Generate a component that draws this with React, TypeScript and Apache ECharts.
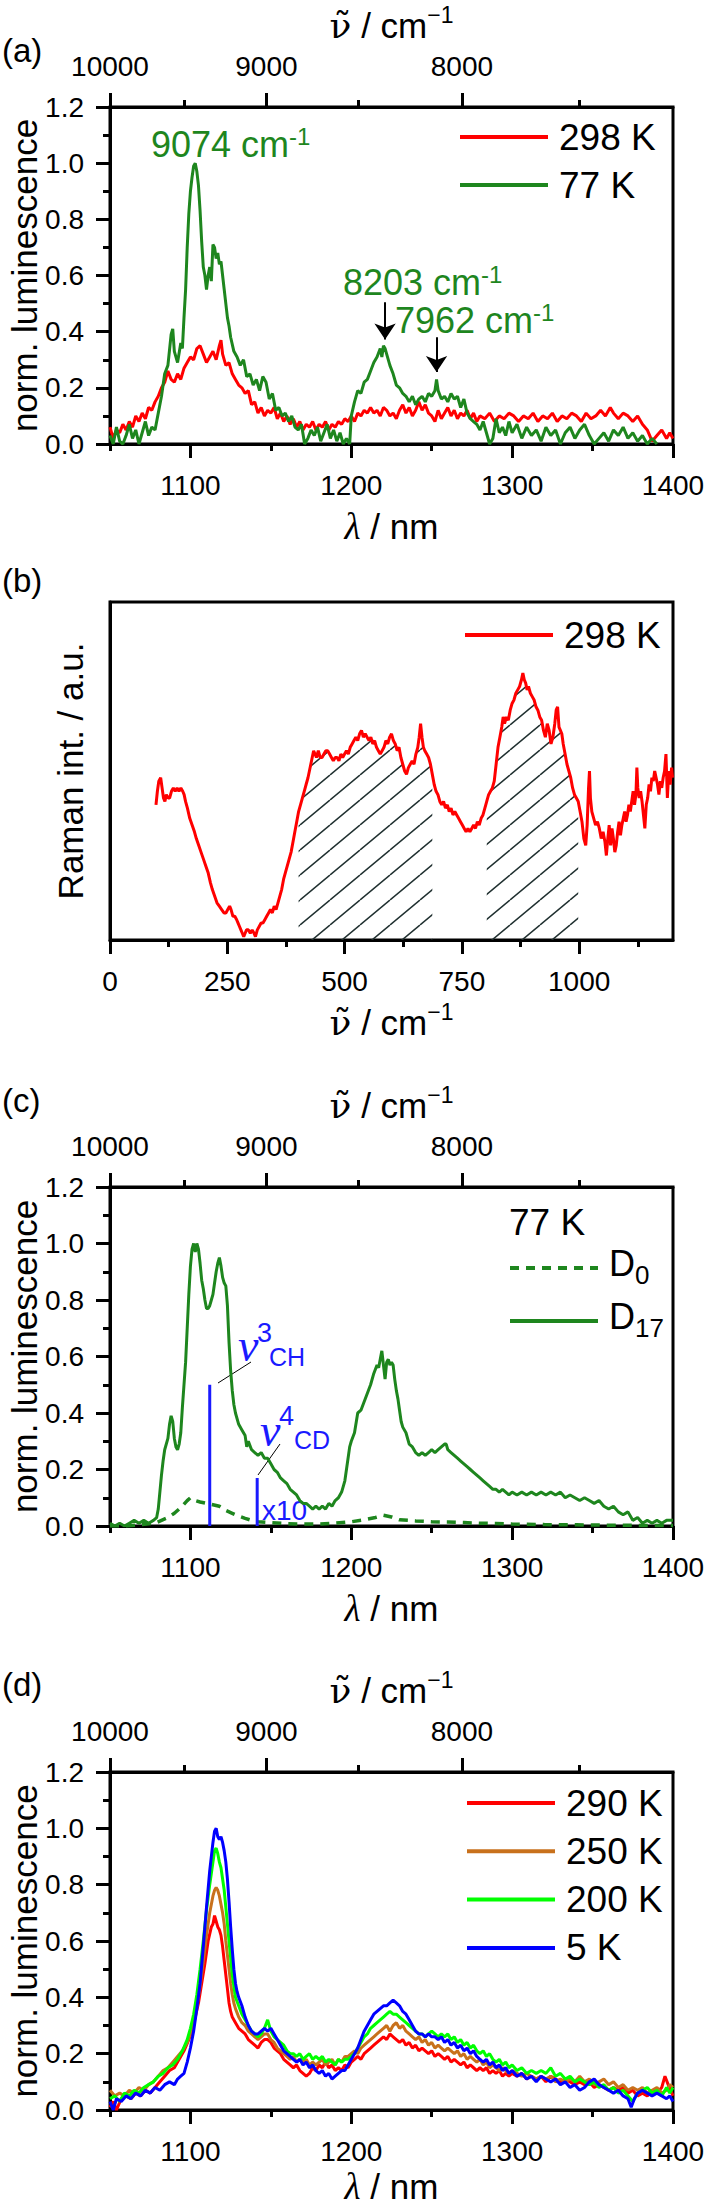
import React, { useEffect, useRef } from "react";
import * as echarts from "echarts";

const W = 708;
const H = 2205;
const FONT = 'Arial, "Liberation Sans", Helvetica, sans-serif';
const SERIF = '"Liberation Serif", "Times New Roman", "DejaVu Serif", serif';
const NUFONT = '"DejaVu Serif", serif';
const BLACK = "#000";
const RED = "#ff0000";
const DKGREEN = "#1e861e";
const BROWN = "#c8711c";
const LGREEN = "#00ff00";
const BLUE = "#0000ff";
const ABLUE = "#1a1aff";

// ---------- tick values ----------
const LAMBDA_MAJOR = [1100, 1200, 1300, 1400];
const LAMBDA_MINOR = [1050, 1150, 1250, 1350];
const WN_MAJOR = [10000, 9000, 8000];
const WN_MINOR = [9500, 8500, 7500];
const RAMAN_MAJOR = [0, 250, 500, 750, 1000];
const RAMAN_MINOR = [125, 375, 625, 875, 1125];

// ---------- panel (a) ----------
const a298 = [[1050,0.06],[1052,0.02],[1054,0.05],[1056,0.04],[1058,0.07],[1060,0.05],[1062,0.08],[1064,0.06],[1066,0.1],[1068,0.08],[1070,0.11],[1072,0.09],[1074,0.13],[1076,0.12],[1078,0.15],[1080,0.17],[1082,0.2],[1084,0.22],[1086,0.26],[1088,0.23],[1090,0.22],[1092,0.25],[1094,0.23],[1096,0.27],[1098,0.29],[1100,0.31],[1102,0.3],[1104,0.34],[1106,0.35],[1108,0.32],[1110,0.29],[1112,0.31],[1114,0.33],[1116,0.3],[1118,0.35],[1119,0.37],[1120,0.32],[1122,0.28],[1124,0.29],[1126,0.25],[1128,0.23],[1130,0.21],[1132,0.2],[1134,0.18],[1136,0.19],[1138,0.14],[1140,0.15],[1142,0.11],[1144,0.13],[1146,0.1],[1148,0.12],[1150,0.11],[1152,0.13],[1154,0.09],[1156,0.11],[1158,0.08],[1160,0.1],[1162,0.07],[1164,0.09],[1166,0.06],[1168,0.08],[1170,0.05],[1172,0.07],[1174,0.06],[1176,0.08],[1178,0.05],[1180,0.07],[1182,0.06],[1184,0.08],[1186,0.05],[1188,0.07],[1190,0.06],[1192,0.08],[1194,0.07],[1196,0.09],[1198,0.08],[1200,0.1],[1202,0.08],[1204,0.11],[1206,0.1],[1208,0.12],[1210,0.11],[1212,0.13],[1214,0.11],[1216,0.12],[1218,0.1],[1220,0.13],[1222,0.12],[1224,0.1],[1226,0.11],[1228,0.09],[1230,0.12],[1232,0.14],[1234,0.11],[1236,0.13],[1238,0.1],[1240,0.12],[1242,0.15],[1244,0.12],[1246,0.14],[1248,0.11],[1250,0.1],[1252,0.08],[1254,0.12],[1256,0.09],[1258,0.11],[1260,0.13],[1262,0.1],[1264,0.12],[1266,0.09],[1268,0.11],[1270,0.1],[1272,0.12],[1274,0.09],[1276,0.11],[1278,0.08],[1280,0.1],[1283,0.09],[1286,0.11],[1289,0.08],[1292,0.1],[1295,0.09],[1298,0.11],[1301,0.1],[1304,0.08],[1307,0.1],[1310,0.09],[1313,0.11],[1316,0.08],[1319,0.1],[1322,0.09],[1325,0.11],[1328,0.08],[1331,0.1],[1334,0.09],[1337,0.11],[1340,0.1],[1343,0.08],[1346,0.11],[1349,0.09],[1352,0.1],[1355,0.12],[1358,0.1],[1361,0.13],[1363,0.11],[1366,0.09],[1369,0.11],[1372,0.1],[1375,0.08],[1378,0.1],[1381,0.07],[1384,0.05],[1387,0.01],[1390,0.03],[1393,0.05],[1396,0.02],[1398,0.04],[1400,0.02]];
const a77 = [[1050,0.03],[1052,0.0],[1054,0.06],[1056,0.01],[1058,0.0],[1060,0.03],[1062,0.07],[1064,0.02],[1066,0.05],[1068,0.0],[1070,0.04],[1072,0.08],[1074,0.03],[1076,0.06],[1078,0.05],[1080,0.11],[1082,0.17],[1084,0.25],[1086,0.28],[1088,0.39],[1089,0.41],[1090,0.33],[1092,0.29],[1094,0.36],[1095,0.34],[1096,0.45],[1097,0.55],[1098,0.7],[1099,0.82],[1100,0.9],[1101,0.95],[1102,0.99],[1103,1.0],[1104,0.97],[1105,0.92],[1106,0.83],[1107,0.72],[1108,0.63],[1109,0.6],[1110,0.55],[1111,0.6],[1112,0.63],[1113,0.58],[1114,0.71],[1115,0.7],[1116,0.66],[1117,0.68],[1118,0.64],[1119,0.65],[1120,0.6],[1121,0.55],[1122,0.5],[1123,0.45],[1124,0.42],[1125,0.38],[1127,0.33],[1129,0.31],[1131,0.28],[1133,0.3],[1135,0.24],[1137,0.25],[1139,0.21],[1141,0.23],[1143,0.19],[1145,0.24],[1147,0.22],[1149,0.16],[1151,0.18],[1153,0.12],[1155,0.13],[1157,0.1],[1159,0.11],[1161,0.08],[1163,0.1],[1165,0.06],[1167,0.05],[1169,0.07],[1171,0.0],[1173,0.02],[1175,0.05],[1177,0.03],[1179,0.06],[1181,0.01],[1183,0.04],[1185,0.07],[1187,0.02],[1189,0.05],[1191,0.01],[1193,0.04],[1195,0.0],[1197,0.02],[1199,0.0],[1200,0.1],[1202,0.15],[1204,0.19],[1206,0.18],[1208,0.22],[1210,0.23],[1212,0.26],[1214,0.29],[1216,0.31],[1218,0.34],[1219,0.31],[1220,0.35],[1221,0.34],[1222,0.32],[1224,0.28],[1226,0.25],[1228,0.21],[1230,0.2],[1232,0.18],[1234,0.17],[1236,0.15],[1238,0.17],[1240,0.14],[1242,0.16],[1244,0.17],[1246,0.15],[1248,0.18],[1250,0.17],[1252,0.19],[1253,0.23],[1254,0.19],[1256,0.16],[1258,0.17],[1260,0.15],[1262,0.18],[1264,0.16],[1266,0.17],[1268,0.13],[1270,0.16],[1272,0.11],[1274,0.09],[1276,0.08],[1278,0.07],[1280,0.05],[1282,0.08],[1284,0.04],[1286,0.0],[1288,0.02],[1290,0.09],[1292,0.04],[1294,0.06],[1296,0.03],[1298,0.08],[1300,0.04],[1303,0.07],[1306,0.02],[1309,0.06],[1312,0.03],[1315,0.05],[1318,0.01],[1321,0.06],[1324,0.03],[1327,0.05],[1330,0.0],[1333,0.04],[1336,0.06],[1339,0.02],[1342,0.05],[1345,0.07],[1348,0.03],[1351,0.0],[1354,0.02],[1357,0.04],[1360,0.01],[1363,0.05],[1366,0.03],[1369,0.06],[1372,0.02],[1375,0.04],[1378,0.01],[1381,0.03],[1384,0.0],[1387,0.02],[1390,0.0]];
// arrows: [lambda, start value, end value]
const aArrows = [[1221, 0.505, 0.372], [1253, 0.38, 0.256]];

// ---------- panel (b) ----------
const ramanB = [[98,0.40],[101,0.44],[104,0.47],[108,0.48],[111,0.45],[114,0.42],[117,0.41],[120,0.43],[124,0.42],[127,0.42],[131,0.44],[135,0.45],[139,0.44],[143,0.45],[147,0.44],[151,0.45],[155,0.44],[158,0.43],[161,0.41],[165,0.39],[170,0.36],[175,0.34],[180,0.32],[184,0.3],[189,0.28],[194,0.26],[199,0.24],[204,0.22],[209,0.2],[214,0.17],[218,0.15],[223,0.13],[228,0.11],[233,0.1],[238,0.09],[243,0.08],[247,0.08],[251,0.09],[255,0.1],[258,0.09],[262,0.07],[266,0.07],[270,0.06],[273,0.05],[276,0.04],[279,0.03],[282,0.02],[285,0.01],[288,0.02],[291,0.03],[295,0.03],[299,0.02],[303,0.03],[307,0.02],[310,0.01],[314,0.03],[318,0.04],[322,0.05],[326,0.05],[330,0.06],[334,0.07],[338,0.08],[342,0.09],[346,0.08],[350,0.1],[354,0.09],[358,0.11],[362,0.13],[366,0.15],[370,0.18],[374,0.2],[378,0.22],[382,0.24],[386,0.26],[390,0.29],[394,0.32],[398,0.35],[402,0.38],[406,0.4],[410,0.42],[414,0.44],[418,0.46],[422,0.48],[425,0.5],[428,0.52],[431,0.54],[434,0.56],[437,0.55],[440,0.54],[444,0.56],[448,0.54],[452,0.54],[456,0.55],[460,0.56],[464,0.56],[468,0.55],[472,0.54],[476,0.53],[480,0.54],[484,0.54],[488,0.53],[492,0.55],[496,0.54],[500,0.55],[504,0.56],[508,0.55],[512,0.57],[516,0.58],[520,0.59],[524,0.6],[528,0.59],[532,0.61],[536,0.62],[540,0.6],[544,0.61],[548,0.6],[552,0.59],[556,0.6],[560,0.58],[564,0.59],[568,0.57],[572,0.56],[576,0.55],[580,0.56],[584,0.57],[588,0.59],[592,0.58],[596,0.6],[600,0.61],[604,0.59],[608,0.58],[612,0.56],[616,0.57],[620,0.54],[624,0.52],[628,0.5],[632,0.49],[636,0.51],[640,0.52],[644,0.53],[648,0.52],[652,0.55],[656,0.57],[659,0.6],[662,0.64],[665,0.6],[668,0.57],[671,0.56],[675,0.55],[679,0.54],[683,0.52],[687,0.49],[691,0.46],[695,0.44],[699,0.43],[703,0.41],[707,0.4],[711,0.41],[715,0.39],[719,0.4],[723,0.38],[727,0.39],[731,0.37],[735,0.38],[739,0.37],[743,0.36],[747,0.35],[751,0.34],[755,0.33],[759,0.32],[763,0.33],[767,0.32],[771,0.33],[775,0.34],[779,0.33],[783,0.35],[787,0.34],[791,0.36],[795,0.37],[799,0.39],[803,0.41],[807,0.43],[811,0.44],[815,0.45],[819,0.47],[823,0.52],[827,0.57],[831,0.6],[835,0.63],[838,0.66],[841,0.64],[845,0.66],[849,0.65],[853,0.68],[857,0.7],[861,0.71],[865,0.73],[869,0.74],[873,0.75],[877,0.77],[880,0.79],[883,0.77],[886,0.76],[889,0.74],[892,0.75],[896,0.73],[900,0.72],[904,0.71],[908,0.69],[912,0.68],[916,0.66],[920,0.65],[924,0.62],[928,0.6],[932,0.64],[936,0.62],[940,0.58],[944,0.6],[948,0.64],[951,0.68],[954,0.69],[957,0.63],[960,0.62],[963,0.61],[966,0.58],[970,0.55],[974,0.52],[978,0.5],[982,0.48],[986,0.45],[990,0.43],[994,0.42],[998,0.41],[1002,0.38],[1006,0.35],[1010,0.3],[1014,0.28],[1017,0.34],[1020,0.45],[1022,0.5],[1024,0.42],[1027,0.38],[1031,0.36],[1035,0.34],[1039,0.35],[1043,0.33],[1047,0.3],[1051,0.32],[1055,0.29],[1058,0.25],[1061,0.3],[1064,0.34],[1067,0.28],[1070,0.33],[1073,0.3],[1076,0.26],[1079,0.28],[1082,0.32],[1085,0.35],[1088,0.31],[1091,0.34],[1094,0.36],[1097,0.38],[1100,0.35],[1103,0.37],[1106,0.4],[1109,0.38],[1112,0.41],[1115,0.44],[1118,0.4],[1121,0.43],[1123,0.51],[1125,0.45],[1128,0.42],[1131,0.44],[1134,0.41],[1137,0.37],[1140,0.33],[1143,0.4],[1146,0.42],[1149,0.46],[1152,0.44],[1155,0.48],[1158,0.47],[1161,0.5],[1164,0.48],[1167,0.46],[1170,0.43],[1173,0.47],[1176,0.45],[1179,0.48],[1182,0.5],[1185,0.55],[1188,0.42],[1191,0.5],[1194,0.46],[1197,0.51],[1199,0.48]];
const hatchRanges = [[400, 690], [800, 1000]];

// ---------- panel (c) ----------
const cD0 = [[1050,0.0],[1060,0.0],[1070,0.005],[1078,0.01],[1082,0.02],[1086,0.03],[1090,0.045],[1094,0.065],[1098,0.09],[1100,0.1],[1103,0.09],[1106,0.085],[1110,0.08],[1114,0.075],[1118,0.07],[1122,0.055],[1126,0.045],[1130,0.035],[1134,0.027],[1138,0.02],[1142,0.015],[1150,0.012],[1160,0.008],[1170,0.007],[1180,0.007],[1190,0.01],[1200,0.015],[1208,0.022],[1215,0.03],[1220,0.038],[1225,0.032],[1230,0.022],[1240,0.018],[1250,0.015],[1260,0.014],[1270,0.012],[1280,0.01],[1290,0.009],[1300,0.007],[1320,0.005],[1340,0.004],[1360,0.003],[1380,0.002],[1400,0.002]];
const cD17 = [[1050,0.01],[1053,0.0],[1056,0.01],[1059,0.0],[1062,0.01],[1065,0.02],[1068,0.01],[1071,0.02],[1074,0.01],[1077,0.02],[1079,0.03],[1080,0.06],[1081,0.12],[1082,0.18],[1083,0.23],[1084,0.27],[1086,0.31],[1087,0.36],[1088,0.39],[1089,0.37],[1090,0.31],[1091,0.28],[1092,0.27],[1093,0.29],[1094,0.33],[1095,0.42],[1096,0.5],[1097,0.58],[1098,0.7],[1099,0.82],[1100,0.92],[1101,0.98],[1102,1.0],[1103,0.97],[1104,1.0],[1105,0.98],[1106,0.93],[1107,0.87],[1108,0.84],[1109,0.8],[1110,0.77],[1111,0.77],[1112,0.78],[1113,0.8],[1114,0.82],[1115,0.86],[1116,0.9],[1117,0.93],[1118,0.95],[1119,0.92],[1120,0.88],[1121,0.86],[1122,0.85],[1123,0.78],[1124,0.65],[1125,0.55],[1126,0.48],[1127,0.43],[1128,0.4],[1130,0.36],[1132,0.34],[1134,0.32],[1135,0.28],[1136,0.3],[1138,0.27],[1140,0.26],[1142,0.25],[1144,0.26],[1146,0.24],[1148,0.24],[1150,0.22],[1152,0.2],[1154,0.19],[1156,0.17],[1158,0.16],[1160,0.15],[1162,0.13],[1164,0.12],[1166,0.11],[1168,0.09],[1170,0.08],[1172,0.08],[1174,0.07],[1176,0.06],[1178,0.07],[1180,0.06],[1182,0.07],[1184,0.06],[1186,0.08],[1188,0.07],[1190,0.09],[1192,0.1],[1194,0.12],[1196,0.16],[1197,0.2],[1198,0.24],[1199,0.28],[1200,0.3],[1202,0.33],[1204,0.4],[1206,0.41],[1208,0.44],[1210,0.47],[1212,0.5],[1214,0.54],[1216,0.57],[1217,0.56],[1218,0.59],[1219,0.62],[1220,0.57],[1221,0.52],[1222,0.58],[1223,0.59],[1224,0.57],[1225,0.58],[1226,0.57],[1227,0.52],[1228,0.48],[1229,0.45],[1230,0.41],[1231,0.37],[1232,0.35],[1234,0.33],[1236,0.29],[1238,0.28],[1240,0.26],[1242,0.25],[1244,0.26],[1246,0.25],[1248,0.26],[1250,0.27],[1252,0.26],[1254,0.27],[1256,0.28],[1258,0.29],[1259,0.29],[1260,0.27],[1262,0.26],[1264,0.25],[1266,0.24],[1268,0.23],[1270,0.22],[1272,0.21],[1274,0.2],[1276,0.19],[1278,0.18],[1280,0.17],[1282,0.16],[1284,0.15],[1286,0.14],[1288,0.13],[1290,0.13],[1292,0.12],[1294,0.13],[1296,0.12],[1298,0.11],[1300,0.12],[1303,0.11],[1306,0.12],[1309,0.11],[1312,0.12],[1315,0.11],[1318,0.12],[1321,0.11],[1324,0.12],[1327,0.11],[1330,0.12],[1333,0.1],[1336,0.11],[1339,0.1],[1342,0.09],[1345,0.1],[1348,0.09],[1351,0.08],[1354,0.09],[1357,0.07],[1360,0.06],[1363,0.07],[1366,0.05],[1369,0.04],[1372,0.05],[1375,0.02],[1378,0.03],[1381,0.01],[1384,0.02],[1387,0.01],[1390,0.02],[1393,0.01],[1396,0.02],[1400,0.02]];
// vibrational overtone markers: [lambda, height]
const cModes = [[1112, 0.5], [1141.5, 0.17]];

// ---------- panel (d) ----------
const d290 = [[1050,0.01],[1052,0.03],[1054,0.0],[1057,0.04],[1060,0.05],[1063,0.04],[1066,0.06],[1069,0.05],[1072,0.07],[1075,0.06],[1078,0.08],[1081,0.1],[1084,0.12],[1087,0.14],[1090,0.15],[1093,0.18],[1096,0.21],[1099,0.25],[1101,0.28],[1103,0.33],[1105,0.38],[1107,0.45],[1109,0.52],[1111,0.6],[1113,0.65],[1114,0.66],[1115,0.69],[1116,0.67],[1117,0.65],[1118,0.64],[1119,0.62],[1120,0.58],[1121,0.53],[1122,0.48],[1123,0.43],[1124,0.38],[1125,0.35],[1126,0.33],[1128,0.31],[1130,0.29],[1132,0.28],[1134,0.27],[1136,0.25],[1138,0.24],[1140,0.23],[1142,0.22],[1144,0.24],[1146,0.25],[1148,0.25],[1150,0.24],[1152,0.22],[1154,0.21],[1156,0.2],[1158,0.18],[1160,0.17],[1162,0.16],[1164,0.15],[1166,0.16],[1168,0.14],[1170,0.13],[1172,0.12],[1174,0.13],[1176,0.15],[1178,0.14],[1180,0.16],[1182,0.15],[1184,0.17],[1186,0.15],[1188,0.16],[1190,0.14],[1192,0.15],[1194,0.14],[1196,0.16],[1198,0.15],[1200,0.17],[1202,0.18],[1204,0.19],[1206,0.18],[1208,0.2],[1210,0.21],[1212,0.22],[1214,0.23],[1216,0.24],[1218,0.25],[1220,0.26],[1222,0.25],[1224,0.27],[1226,0.26],[1228,0.25],[1230,0.24],[1232,0.25],[1234,0.23],[1236,0.24],[1238,0.22],[1240,0.23],[1242,0.21],[1244,0.22],[1246,0.21],[1248,0.2],[1250,0.21],[1252,0.19],[1254,0.2],[1256,0.19],[1258,0.18],[1260,0.19],[1262,0.17],[1264,0.18],[1266,0.17],[1268,0.16],[1270,0.17],[1272,0.15],[1274,0.16],[1276,0.15],[1278,0.14],[1280,0.15],[1282,0.14],[1284,0.15],[1286,0.13],[1288,0.14],[1290,0.13],[1292,0.14],[1294,0.12],[1296,0.13],[1298,0.12],[1300,0.13],[1303,0.12],[1306,0.13],[1309,0.11],[1312,0.12],[1315,0.11],[1318,0.12],[1321,0.1],[1324,0.12],[1327,0.11],[1330,0.1],[1333,0.11],[1336,0.1],[1339,0.09],[1342,0.1],[1345,0.09],[1348,0.1],[1351,0.08],[1354,0.09],[1357,0.08],[1360,0.07],[1363,0.08],[1366,0.07],[1369,0.08],[1372,0.06],[1375,0.07],[1378,0.05],[1381,0.06],[1384,0.05],[1387,0.07],[1390,0.06],[1393,0.08],[1395,0.12],[1397,0.09],[1400,0.05]];
const d250 = [[1050,0.07],[1053,0.05],[1056,0.06],[1059,0.05],[1062,0.07],[1065,0.06],[1068,0.08],[1071,0.07],[1074,0.09],[1077,0.1],[1080,0.12],[1083,0.14],[1086,0.15],[1089,0.17],[1092,0.19],[1095,0.21],[1098,0.24],[1100,0.27],[1102,0.31],[1104,0.37],[1106,0.44],[1108,0.53],[1110,0.62],[1112,0.7],[1114,0.76],[1115,0.78],[1116,0.79],[1117,0.78],[1118,0.76],[1119,0.73],[1120,0.7],[1121,0.66],[1122,0.6],[1123,0.55],[1124,0.5],[1125,0.45],[1126,0.41],[1127,0.38],[1128,0.36],[1130,0.33],[1132,0.31],[1134,0.3],[1136,0.28],[1138,0.27],[1140,0.26],[1142,0.25],[1144,0.26],[1146,0.27],[1148,0.27],[1150,0.25],[1152,0.24],[1154,0.22],[1156,0.21],[1158,0.2],[1160,0.19],[1162,0.18],[1164,0.19],[1166,0.17],[1168,0.18],[1170,0.17],[1172,0.18],[1174,0.16],[1176,0.17],[1178,0.16],[1180,0.17],[1182,0.18],[1184,0.16],[1186,0.17],[1188,0.18],[1190,0.16],[1192,0.18],[1194,0.17],[1196,0.19],[1198,0.19],[1200,0.2],[1202,0.21],[1204,0.2],[1206,0.22],[1208,0.23],[1210,0.24],[1212,0.25],[1214,0.26],[1216,0.27],[1218,0.28],[1220,0.29],[1222,0.3],[1224,0.28],[1226,0.3],[1228,0.31],[1230,0.29],[1232,0.3],[1234,0.28],[1236,0.27],[1238,0.26],[1240,0.25],[1242,0.26],[1244,0.24],[1246,0.25],[1248,0.23],[1250,0.24],[1252,0.22],[1254,0.23],[1256,0.22],[1258,0.21],[1260,0.22],[1262,0.21],[1264,0.2],[1266,0.21],[1268,0.19],[1270,0.2],[1272,0.18],[1274,0.19],[1276,0.18],[1278,0.17],[1280,0.18],[1282,0.16],[1284,0.17],[1286,0.15],[1288,0.16],[1290,0.15],[1292,0.14],[1294,0.15],[1296,0.14],[1298,0.13],[1300,0.14],[1303,0.13],[1306,0.12],[1309,0.13],[1312,0.12],[1315,0.11],[1318,0.12],[1321,0.11],[1324,0.12],[1327,0.1],[1330,0.11],[1333,0.1],[1336,0.11],[1339,0.1],[1342,0.12],[1345,0.1],[1348,0.11],[1351,0.09],[1354,0.1],[1357,0.11],[1360,0.09],[1363,0.1],[1366,0.08],[1369,0.09],[1372,0.07],[1375,0.08],[1378,0.07],[1381,0.08],[1384,0.06],[1387,0.07],[1390,0.08],[1393,0.06],[1396,0.07],[1398,0.09],[1400,0.08]];
const d200 = [[1050,0.04],[1053,0.05],[1056,0.03],[1059,0.06],[1062,0.05],[1065,0.07],[1068,0.06],[1071,0.08],[1074,0.09],[1077,0.1],[1080,0.12],[1083,0.13],[1086,0.15],[1089,0.16],[1092,0.18],[1095,0.21],[1098,0.25],[1100,0.29],[1102,0.34],[1104,0.41],[1106,0.5],[1108,0.6],[1110,0.71],[1112,0.8],[1114,0.88],[1115,0.92],[1116,0.93],[1117,0.91],[1118,0.88],[1119,0.86],[1120,0.82],[1121,0.78],[1122,0.72],[1123,0.66],[1124,0.6],[1125,0.54],[1126,0.48],[1127,0.44],[1128,0.4],[1130,0.37],[1132,0.34],[1134,0.32],[1136,0.3],[1138,0.28],[1140,0.27],[1142,0.26],[1144,0.27],[1146,0.29],[1148,0.32],[1150,0.28],[1152,0.26],[1154,0.25],[1156,0.24],[1158,0.23],[1160,0.21],[1162,0.2],[1164,0.2],[1166,0.19],[1168,0.2],[1170,0.18],[1172,0.19],[1174,0.2],[1176,0.18],[1178,0.19],[1180,0.18],[1182,0.19],[1184,0.17],[1186,0.18],[1188,0.17],[1190,0.16],[1192,0.18],[1194,0.17],[1196,0.18],[1198,0.18],[1200,0.19],[1202,0.2],[1204,0.22],[1206,0.24],[1208,0.26],[1210,0.27],[1212,0.29],[1214,0.3],[1216,0.31],[1218,0.32],[1220,0.33],[1222,0.34],[1224,0.35],[1226,0.34],[1228,0.34],[1230,0.33],[1232,0.32],[1234,0.31],[1236,0.3],[1238,0.29],[1240,0.28],[1242,0.27],[1244,0.27],[1246,0.26],[1248,0.27],[1250,0.28],[1252,0.27],[1254,0.26],[1256,0.27],[1258,0.26],[1260,0.27],[1262,0.25],[1264,0.26],[1266,0.24],[1268,0.25],[1270,0.23],[1272,0.24],[1274,0.22],[1276,0.23],[1278,0.21],[1280,0.2],[1282,0.21],[1284,0.19],[1286,0.2],[1288,0.18],[1290,0.17],[1292,0.18],[1294,0.16],[1296,0.17],[1298,0.15],[1300,0.16],[1303,0.14],[1306,0.15],[1309,0.13],[1312,0.14],[1315,0.13],[1318,0.14],[1321,0.13],[1324,0.15],[1327,0.12],[1330,0.13],[1333,0.11],[1336,0.12],[1339,0.1],[1342,0.11],[1345,0.1],[1348,0.09],[1351,0.1],[1354,0.08],[1357,0.09],[1360,0.07],[1363,0.08],[1366,0.06],[1369,0.07],[1372,0.05],[1375,0.03],[1378,0.06],[1381,0.07],[1384,0.08],[1387,0.06],[1390,0.07],[1393,0.05],[1396,0.08],[1398,0.06],[1400,0.08]];
const d5 = [[1050,0.03],[1052,0.0],[1054,0.04],[1057,0.03],[1060,0.05],[1063,0.04],[1066,0.06],[1069,0.05],[1072,0.07],[1075,0.06],[1078,0.08],[1081,0.07],[1084,0.09],[1087,0.1],[1090,0.09],[1092,0.11],[1094,0.12],[1096,0.13],[1098,0.17],[1100,0.22],[1102,0.28],[1104,0.36],[1106,0.45],[1108,0.58],[1110,0.72],[1112,0.85],[1114,0.95],[1115,0.99],[1116,1.0],[1117,0.97],[1118,0.96],[1119,0.97],[1120,0.95],[1121,0.92],[1122,0.88],[1123,0.82],[1124,0.74],[1125,0.65],[1126,0.57],[1127,0.5],[1128,0.45],[1129,0.42],[1130,0.4],[1132,0.37],[1134,0.33],[1136,0.3],[1138,0.28],[1140,0.27],[1142,0.27],[1144,0.28],[1146,0.29],[1148,0.28],[1150,0.29],[1152,0.27],[1154,0.25],[1156,0.23],[1158,0.21],[1160,0.2],[1162,0.19],[1164,0.18],[1166,0.17],[1168,0.18],[1170,0.16],[1172,0.17],[1174,0.15],[1176,0.16],[1178,0.14],[1180,0.13],[1182,0.14],[1184,0.12],[1186,0.13],[1188,0.11],[1190,0.12],[1192,0.13],[1194,0.14],[1196,0.14],[1198,0.16],[1200,0.18],[1202,0.2],[1204,0.22],[1206,0.25],[1208,0.28],[1210,0.3],[1212,0.32],[1214,0.34],[1216,0.35],[1218,0.36],[1220,0.37],[1222,0.37],[1224,0.38],[1226,0.39],[1228,0.38],[1230,0.37],[1232,0.35],[1234,0.34],[1236,0.32],[1238,0.3],[1240,0.28],[1242,0.27],[1244,0.27],[1246,0.26],[1248,0.27],[1250,0.26],[1252,0.26],[1254,0.25],[1256,0.26],[1258,0.24],[1260,0.25],[1262,0.23],[1264,0.24],[1266,0.22],[1268,0.23],[1270,0.21],[1272,0.22],[1274,0.2],[1276,0.21],[1278,0.19],[1280,0.18],[1282,0.17],[1284,0.18],[1286,0.16],[1288,0.17],[1290,0.15],[1292,0.16],[1294,0.14],[1296,0.15],[1298,0.13],[1300,0.14],[1303,0.12],[1306,0.13],[1309,0.11],[1312,0.12],[1315,0.1],[1318,0.12],[1321,0.11],[1324,0.1],[1327,0.11],[1330,0.09],[1333,0.1],[1336,0.08],[1339,0.09],[1342,0.07],[1345,0.08],[1348,0.1],[1351,0.11],[1354,0.09],[1357,0.08],[1360,0.07],[1363,0.06],[1366,0.07],[1369,0.05],[1372,0.04],[1374,0.01],[1376,0.04],[1378,0.06],[1381,0.07],[1384,0.06],[1387,0.05],[1390,0.06],[1393,0.05],[1396,0.04],[1398,0.05],[1400,0.03]];

// ---------- layout ----------
const PLOT_LEFT = 110;
const PLOT_W = 563;
const PANEL_TOPS = [107, 602, 1187, 1772];
const PANEL_H = [337, 338, 339, 338];

const axisLineStyle = { color: BLACK, width: 3 };
const tickStyle = { color: BLACK, width: 3 };
const tickLabel = { fontSize: 28, color: BLACK, fontFamily: FONT };
const plain = (v: number) => String(Math.round(v));

const nameRich = {
  n: { fontSize: 36, fontFamily: NUFONT, color: BLACK, lineHeight: 44 },
  l: { fontSize: 37, fontFamily: SERIF, fontStyle: "italic", color: BLACK, lineHeight: 44 },
  t: { fontSize: 35, fontFamily: FONT, color: BLACK, lineHeight: 44 },
  s: { fontSize: 23, fontFamily: FONT, color: BLACK, lineHeight: 24, verticalAlign: "top" },
};
const NU_NAME = "{n|ν̃}{t| / cm}{s|−1}";
const LAMBDA_NAME = "{l|λ}{t| / nm}";

function bottomAxes(g: number, min: number, max: number, major: number[], minor: number[], name: string, nameGap = 60) {
  return [
    {
      type: "value", gridIndex: g, position: "bottom", min, max,
      axisLine: { show: true, onZero: false, lineStyle: axisLineStyle },
      axisTick: { show: true, customValues: major, length: 14, lineStyle: tickStyle },
      axisLabel: { show: true, customValues: major, margin: 27, ...tickLabel, formatter: plain },
      splitLine: { show: false },
      name, nameLocation: "middle", nameGap, nameMoveOverlap: false,
      nameTextStyle: { fontSize: 35, color: BLACK, fontFamily: FONT, rich: nameRich },
    },
    {
      type: "value", gridIndex: g, position: "bottom", min, max,
      axisLine: { show: false, onZero: false },
      axisTick: { show: true, customValues: minor, length: 7, lineStyle: tickStyle },
      axisLabel: { show: false }, splitLine: { show: false },
    },
  ];
}

function topAxes(g: number) {
  const toNm = (w: number) => 1e7 / w;
  return [
    {
      type: "value", gridIndex: g, position: "top", min: 1000, max: 1400,
      axisLine: { show: true, onZero: false, lineStyle: axisLineStyle },
      axisTick: { show: true, customValues: WN_MAJOR.map(toNm), length: 14, lineStyle: tickStyle },
      axisLabel: {
        show: true, customValues: WN_MAJOR.map(toNm), margin: 27, ...tickLabel,
        formatter: (v: number) => String(Math.round(1e7 / v / 10) * 10),
      },
      splitLine: { show: false },
      name: NU_NAME, nameLocation: "middle", nameGap: 60, nameMoveOverlap: false,
      nameTextStyle: { fontSize: 35, color: BLACK, fontFamily: FONT, rich: nameRich },
    },
    {
      type: "value", gridIndex: g, position: "top", min: 1000, max: 1400,
      axisLine: { show: false, onZero: false },
      axisTick: { show: true, customValues: WN_MINOR.map(toNm), length: 7, lineStyle: tickStyle },
      axisLabel: { show: false }, splitLine: { show: false },
    },
  ];
}

function lumYAxis(g: number) {
  return {
    type: "value", gridIndex: g, position: "left", min: 0, max: 1.2, interval: 0.2,
    axisLine: { show: true, onZero: false, lineStyle: axisLineStyle },
    axisTick: { show: true, length: 14, lineStyle: tickStyle },
    minorTick: { show: true, splitNumber: 2, length: 7, lineStyle: tickStyle },
    axisLabel: { show: true, margin: 26, ...tickLabel, formatter: (v: number) => v.toFixed(1) },
    splitLine: { show: false }, minorSplitLine: { show: false },
    name: "norm. luminescence", nameLocation: "middle", nameGap: 68, nameMoveOverlap: false,
    nameTextStyle: { fontSize: 35, color: BLACK, fontFamily: FONT },
  };
}

function lineSeries(name: string, data: number[][], xi: number, yi: number, color: string, extra: any = {}) {
  return {
    type: "line", name, data, xAxisIndex: xi, yAxisIndex: yi,
    symbol: "none", showSymbol: false, smooth: false, clip: true,
    lineStyle: { color, width: 3 }, itemStyle: { color },
    emphasis: { disabled: true }, silent: true,
    ...extra,
  };
}

function legendBox(names: string[], left: number, top: number, gap: number, extra: any = {}) {
  return {
    data: names, orient: "vertical", left, top, padding: 0, itemGap: gap,
    itemWidth: 88, itemHeight: 14, selectedMode: false,
    itemStyle: { opacity: 0 },
    lineStyle: { width: 4 },
    textStyle: { fontSize: 37, color: BLACK, fontFamily: FONT, lineHeight: 40, padding: [0, 0, 0, 6] },
    ...extra,
  };
}

function makeHatch() {
  const w = 30, h = 25;
  const c = document.createElement("canvas");
  c.width = w; c.height = h;
  const ctx = c.getContext("2d")!;
  ctx.strokeStyle = "#1f2f2f";
  ctx.lineWidth = 1.5;
  for (const dx of [-w, 0, w]) {
    ctx.beginPath();
    ctx.moveTo(dx, h);
    ctx.lineTo(dx + w, 0);
    ctx.stroke();
  }
  return { image: c, repeat: "repeat", imageWidth: w, imageHeight: h };
}

function txt(text: string, x: number, y: number, fontSize: number, fill: string, extra: any = {}) {
  return {
    type: "text", x, y, silent: true,
    style: { text, fontSize, fontFamily: FONT, fill, verticalAlign: "middle", align: "left", ...extra },
  };
}

function buildOption() {
  const grid = PANEL_TOPS.map((top, i) => ({
    left: PLOT_LEFT, top, width: PLOT_W, height: PANEL_H[i],
    show: true, borderColor: BLACK, borderWidth: 3, backgroundColor: "transparent",
    containLabel: false, outerBoundsMode: "none",
  }));

  const xAxis = [
    ...bottomAxes(0, 1050, 1400, LAMBDA_MAJOR, LAMBDA_MINOR, LAMBDA_NAME), // 0,1
    ...topAxes(0), // 2,3
    ...bottomAxes(1, 0, 1200, RAMAN_MAJOR, RAMAN_MINOR, NU_NAME), // 4,5
    ...bottomAxes(2, 1050, 1400, LAMBDA_MAJOR, LAMBDA_MINOR, LAMBDA_NAME), // 6,7
    ...topAxes(2), // 8,9
    ...bottomAxes(3, 1050, 1400, LAMBDA_MAJOR, LAMBDA_MINOR, LAMBDA_NAME, 54), // 10,11
    ...topAxes(3), // 12,13
  ];

  const yAxis = [
    lumYAxis(0),
    {
      type: "value", gridIndex: 1, position: "left", min: 0, max: 1,
      axisLine: { show: true, onZero: false, lineStyle: axisLineStyle },
      axisTick: { show: false }, axisLabel: { show: false }, splitLine: { show: false },
      name: "Raman int. / a.u.", nameLocation: "middle", nameGap: 22, nameMoveOverlap: false,
      nameTextStyle: { fontSize: 35, color: BLACK, fontFamily: FONT },
    },
    lumYAxis(2),
    lumYAxis(3),
  ];

  const hatch = makeHatch();
  const hatchSeries = hatchRanges.map(([lo, hi], i) => ({
    type: "line", name: "hatch" + i, xAxisIndex: 4, yAxisIndex: 1,
    data: ramanB.filter(([x]) => x >= lo && x <= hi),
    symbol: "none", silent: true, z: 1,
    lineStyle: { width: 0, opacity: 0 },
    areaStyle: { color: hatch, opacity: 1, origin: "start" },
    emphasis: { disabled: true },
  }));

  const series: any[] = [
    lineSeries("298 K", a298, 0, 0, RED),
    lineSeries("77 K", a77, 0, 0, DKGREEN, {
      markLine: {
        silent: true, symbol: ["none", "arrow"], symbolSize: 16, animation: false,
        label: { show: false }, emphasis: { disabled: true },
        lineStyle: { color: BLACK, width: 2, type: "solid" },
        data: aArrows.map(([x, y0, y1]) => [{ coord: [x, y0] }, { coord: [x, y1] }]),
      },
    }),
    ...hatchSeries,
    lineSeries("298 K", ramanB, 4, 1, RED, { z: 3 }),
    lineSeries("D0", cD0, 6, 2, DKGREEN, { lineStyle: { color: DKGREEN, width: 3.5, type: [9, 7] } }),
    lineSeries("D17", cD17, 6, 2, DKGREEN),
    ...cModes.map(([x, h], i) =>
      lineSeries("mode" + i, [[x, 0], [x, h]], 6, 2, ABLUE, { lineStyle: { color: ABLUE, width: 3 }, z: 4 })
    ),
    lineSeries("290 K", d290, 10, 3, RED),
    lineSeries("250 K", d250, 10, 3, BROWN),
    lineSeries("200 K", d200, 10, 3, LGREEN),
    lineSeries("5 K", d5, 10, 3, BLUE),
  ];

  const legend = [
    legendBox(["298 K", "77 K"], 458, 117, 8),
    legendBox(["298 K"], 463, 615, 8),
    legendBox(["D0", "D17"], 508, 1245, 7, {
      formatter: (n: string) => (n === "D0" ? "{m|D}{s|0}" : "{m|D}{s|17}"),
      textStyle: {
        fontSize: 36, color: BLACK, fontFamily: FONT, padding: [0, 0, 0, 6],
        rich: {
          m: { fontSize: 36, fontFamily: FONT, color: BLACK, lineHeight: 40, padding: [0, 0, 10, 0] },
          s: { fontSize: 26, fontFamily: FONT, color: BLACK, lineHeight: 26, verticalAlign: "bottom" },
        },
      },
    }),
    legendBox(["290 K", "250 K", "200 K", "5 K"], 465, 1783, 8.3),
  ];

  const gRich = {
    a: { fontSize: 36, fontFamily: FONT, fill: DKGREEN, lineHeight: 40 },
    s: { fontSize: 24, fontFamily: FONT, fill: DKGREEN, lineHeight: 32, verticalAlign: "top" },
  };
  const graphic = [
    txt("(a)", 2, 50, 33, BLACK),
    txt("(b)", 2, 580, 33, BLACK),
    txt("(c)", 2, 1100, 33, BLACK),
    txt("(d)", 2, 1684, 33, BLACK),
    txt("{a|9074 cm}{s|-1}", 151, 144, 36, DKGREEN, { rich: gRich }),
    txt("{a|8203 cm}{s|-1}", 343, 282, 36, DKGREEN, { rich: gRich }),
    txt("{a|7962 cm}{s|-1}", 395, 320, 36, DKGREEN, { rich: gRich }),
    txt("77 K", 509, 1222, 37, BLACK),
    // overtone annotations
    txt("ν", 238, 1345, 46, ABLUE, { fontFamily: SERIF, fontStyle: "italic" }),
    txt("3", 257, 1333, 27, ABLUE),
    txt("CH", 269, 1357, 25, ABLUE),
    txt("ν", 260, 1430, 46, ABLUE, { fontFamily: SERIF, fontStyle: "italic" }),
    txt("4", 279, 1416, 27, ABLUE),
    txt("CD", 294, 1440, 25, ABLUE),
    txt("x10", 262, 1510, 28, ABLUE),
    { type: "line", silent: true, shape: { x1: 218, y1: 1383, x2: 251, y2: 1362 }, style: { stroke: BLACK, lineWidth: 1 } },
    { type: "line", silent: true, shape: { x1: 258, y1: 1475, x2: 280, y2: 1444 }, style: { stroke: BLACK, lineWidth: 1 } },
  ];

  return {
    animation: false,
    backgroundColor: "#fff",
    textStyle: { fontFamily: FONT },
    grid, xAxis, yAxis, series, legend, graphic,
  };
}

export default function App() {
  const ref = useRef<HTMLDivElement>(null);
  useEffect(() => {
    document.body.style.margin = "0";
    const chart = echarts.init(ref.current!, null, { renderer: "svg", width: W, height: H });
    chart.setOption(buildOption() as any);
    return () => chart.dispose();
  }, []);
  return (
    <div
      ref={ref}
      style={{ position: "absolute", left: 0, top: 0, width: W, height: H, background: "#fff" }}
    />
  );
}
